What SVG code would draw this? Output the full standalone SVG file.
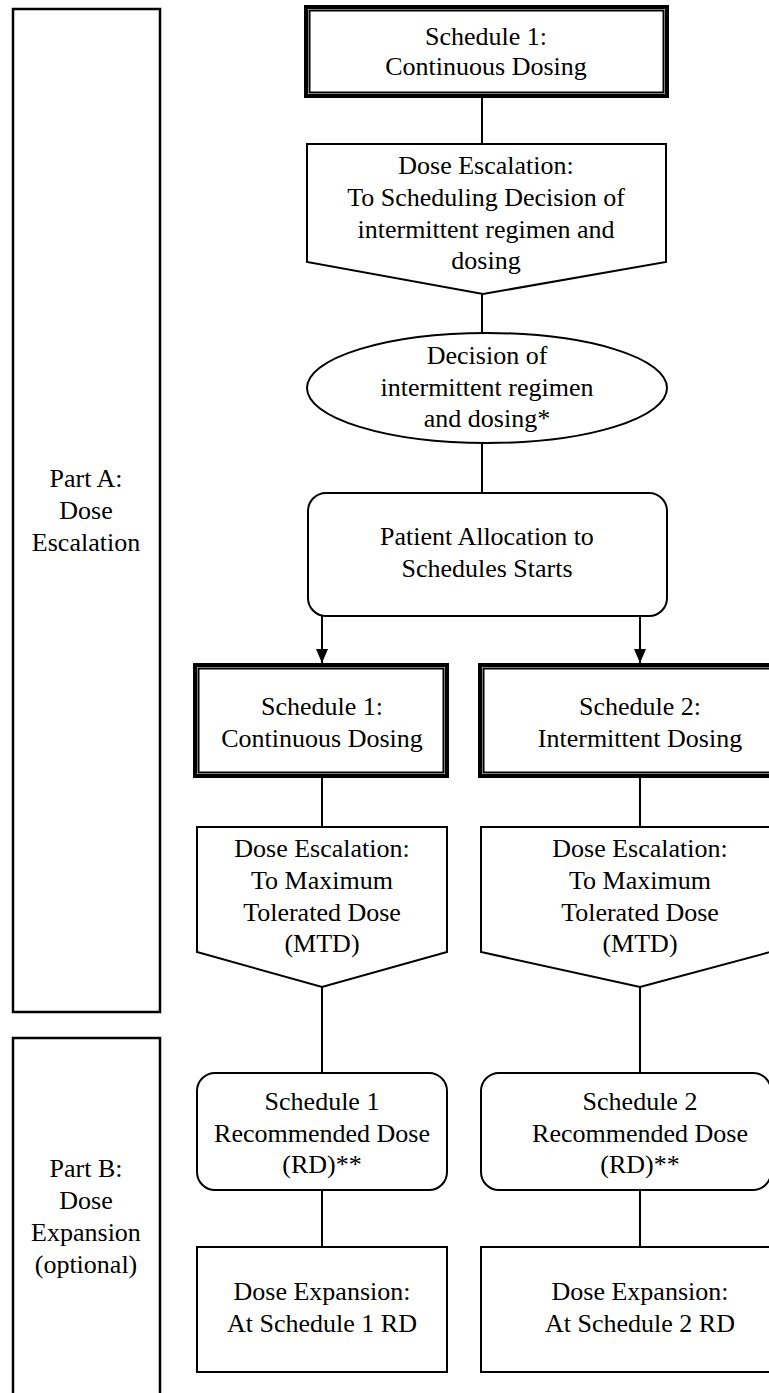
<svg xmlns="http://www.w3.org/2000/svg" width="769" height="1393" viewBox="0 0 769 1393">
<defs>
<style>
.s{fill:#fff;stroke:#000;stroke-width:2}
.thick{fill:#fff;stroke:#000;stroke-width:4}
.thin{fill:none;stroke:#000;stroke-width:2}
.part{fill:#fff;stroke:#000;stroke-width:2.5}
.c{fill:none;stroke:#000;stroke-width:2}
text{font-family:"Liberation Serif","Times New Roman",serif;font-size:26px;fill:#000;text-anchor:middle}
</style>
<marker id="ah" markerUnits="userSpaceOnUse" markerWidth="14" markerHeight="14" viewBox="0 0 14 14" refX="14" refY="7" orient="auto">
<path d="M0,1 L14,7 L0,13 Z" fill="#000"/>
</marker>
</defs>
<rect width="769" height="1393" fill="#fff"/>

<g id="partA">
<rect class="part" x="13" y="9" width="147" height="1003"/>
<text x="86" y="487">Part A:</text>
<text x="86" y="519">Dose</text>
<text x="86" y="551">Escalation</text>
</g>
<g id="partB">
<rect class="part" x="13" y="1038" width="147" height="380"/>
<text x="86" y="1177">Part B:</text>
<text x="86" y="1209">Dose</text>
<text x="86" y="1241">Expansion</text>
<text x="86" y="1273">(optional)</text>
</g>

<g id="connectors">
<line class="c" x1="482" y1="98" x2="482" y2="144"/>
<line class="c" x1="482" y1="294" x2="482" y2="333"/>
<line class="c" x1="482" y1="443" x2="482" y2="493"/>
<line class="c" x1="322" y1="616" x2="322" y2="663" marker-end="url(#ah)"/>
<line class="c" x1="640" y1="616" x2="640" y2="663" marker-end="url(#ah)"/>
<line class="c" x1="322" y1="778" x2="322" y2="827"/>
<line class="c" x1="640" y1="778" x2="640" y2="827"/>
<line class="c" x1="322" y1="987" x2="322" y2="1073"/>
<line class="c" x1="640" y1="987" x2="640" y2="1073"/>
<line class="c" x1="322" y1="1190" x2="322" y2="1247"/>
<line class="c" x1="640" y1="1190" x2="640" y2="1247"/>
</g>

<g id="sched1top">
<rect class="thick" x="306" y="7" width="361" height="89"/>
<rect class="thin" x="309.5" y="10.5" width="354" height="82"/>
<text x="486" y="45">Schedule 1:</text>
<text x="486" y="75">Continuous Dosing</text>
</g>

<g id="escalation1">
<polygon class="s" points="307,144 666,144 666,262 483,294 307,262"/>
<text x="486" y="174">Dose Escalation:</text>
<text x="486" y="206">To Scheduling Decision of</text>
<text x="486" y="238">intermittent regimen  and</text>
<text x="486" y="269">dosing</text>
</g>

<g id="decision">
<ellipse class="s" cx="487" cy="388" rx="180" ry="55"/>
<text x="487" y="364">Decision of</text>
<text x="487" y="396">intermittent regimen</text>
<text x="487" y="427">and dosing*</text>
</g>

<g id="allocation">
<rect class="s" x="308" y="493" width="359" height="123" rx="18" ry="18"/>
<text x="487" y="545">Patient Allocation to</text>
<text x="487" y="577">Schedules Starts</text>
</g>

<g id="sched1">
<rect class="thick" x="195" y="665" width="252" height="111"/>
<rect class="thin" x="198.5" y="668.5" width="245" height="104"/>
<text x="322" y="715">Schedule 1:</text>
<text x="322" y="747">Continuous Dosing</text>
</g>

<g id="sched2">
<rect class="thick" x="480" y="665" width="320" height="111"/>
<rect class="thin" x="483.5" y="668.5" width="313" height="104"/>
<text x="640" y="715">Schedule 2:</text>
<text x="640" y="747">Intermittent Dosing</text>
</g>

<g id="mtd1">
<polygon class="s" points="197,827 447,827 447,952 322,987 197,952"/>
<text x="322" y="857">Dose Escalation:</text>
<text x="322" y="889">To Maximum</text>
<text x="322" y="921">Tolerated Dose</text>
<text x="322" y="952">(MTD)</text>
</g>

<g id="mtd2">
<polygon class="s" points="481,827 800,827 800,944 640,987 481,952"/>
<text x="640" y="857">Dose Escalation:</text>
<text x="640" y="889">To Maximum</text>
<text x="640" y="921">Tolerated Dose</text>
<text x="640" y="952">(MTD)</text>
</g>

<g id="rd1">
<rect class="s" x="197" y="1073" width="250" height="117" rx="18" ry="18"/>
<text x="322" y="1110">Schedule 1</text>
<text x="322" y="1142">Recommended Dose</text>
<text x="322" y="1173">(RD)**</text>
</g>

<g id="rd2">
<rect class="s" x="481" y="1073" width="290" height="117" rx="18" ry="18"/>
<text x="640" y="1110">Schedule 2</text>
<text x="640" y="1142">Recommended Dose</text>
<text x="640" y="1173">(RD)**</text>
</g>

<g id="exp1">
<rect class="s" x="197" y="1247" width="250" height="125"/>
<text x="322" y="1300">Dose Expansion:</text>
<text x="322" y="1332">At Schedule 1 RD</text>
</g>

<g id="exp2">
<rect class="s" x="481" y="1247" width="320" height="125"/>
<text x="640" y="1300">Dose Expansion:</text>
<text x="640" y="1332">At Schedule 2 RD</text>
</g>
</svg>
